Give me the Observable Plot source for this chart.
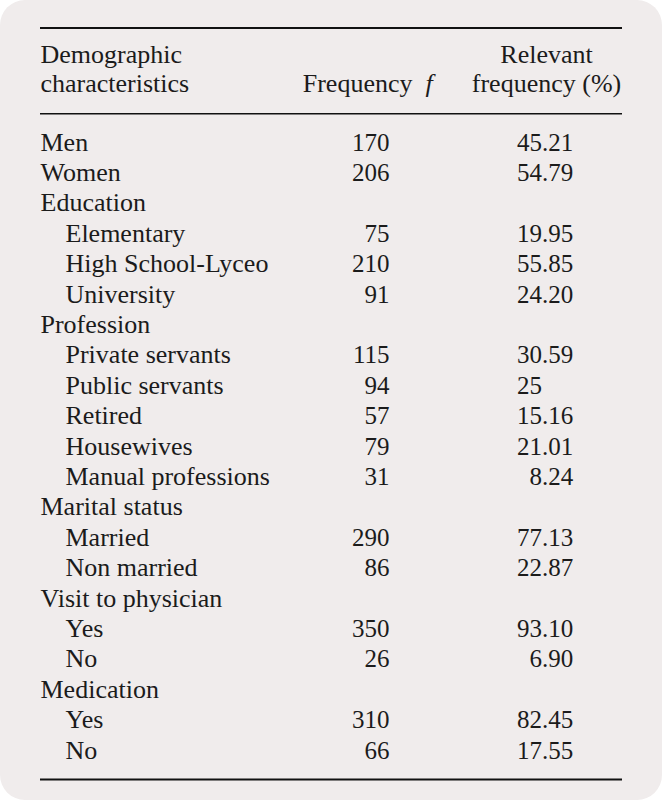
<!DOCTYPE html>
<html><head><meta charset="utf-8">
<script src="https://cdn.jsdelivr.net/npm/d3@7"></script>
<script src="https://cdn.jsdelivr.net/npm/@observablehq/plot@0.6"></script>
<style>
html,body{margin:0;padding:0;background:#fff;}
#chart svg{display:block;}
</style></head><body><div id="chart"></div>
<script>
// ---- data ----
const labels = ["Men","Women","Education","Elementary","High School-Lyceo","University","Profession","Private servants","Public servants","Retired","Housewives","Manual professions","Marital status","Married","Non married","Visit to physician","Yes","No","Medication","Yes","No"];
const indentLevel = [0,0,0,1,1,1,0,1,1,1,1,1,0,1,1,0,1,1,0,1,1];
const frequency = [170,206,null,75,210,91,null,115,94,57,79,31,null,290,86,null,350,26,null,310,66];
const relativeFrequency = ["45.21","54.79",null,"19.95","55.85","24.20",null,"30.59","25","15.16","21.01","8.24",null,"77.13","22.87",null,"93.10","6.90",null,"82.45","17.55"];
const headerCharacteristics = ["Demographic","characteristics"];
const headerFrequency = ["Frequency","f"];
const headerRelative = ["Relevant","frequency (%)"];

// ---- table built from the arrays ----
const rows = labels.map((label,i)=>({i,label,indent:indentLevel[i],freq:frequency[i],rel:relativeFrequency[i]}));
const relParts = rows.filter(d=>d.rel!=null).map(d=>{
  const [a,b] = d.rel.split(".");
  return {i:d.i, int:a, frac:b!==undefined?"."+b:""};
});

// ---- layout (row units on y, pixels on x) ----
const X = {label:40, indent:65, freqEnd:389, fStart:425, freqHeadEnd:412, decimal:541.5, relCenter:546, ruleL:40, ruleR:622};
const Y = {head1:-2.862, head2:-1.908, ruleTop:-4.03, ruleMid:-1.207, ruleBottom:20.69};
const ink = "#1b1b1b";
const fs = 26;   // words
const fn = 25;   // figures

const plot = Plot.plot({
  width:662, height:800, margin:0,
  x:{domain:[0,662], range:[0,662], axis:null},
  y:{domain:[0,20], range:[150,758], axis:null},
  style:{background:"#f0ecec", borderRadius:"25px", fontFamily:"'Liberation Serif', serif"},
  marks:[
    // rules
    Plot.ruleY([Y.ruleTop],{y:d=>d, x1:()=>X.ruleL, x2:()=>X.ruleR, stroke:"#111", strokeWidth:2}),
    Plot.ruleY([Y.ruleMid],{y:d=>d, x1:()=>X.ruleL, x2:()=>X.ruleR, stroke:"#111", strokeWidth:1.4}),
    Plot.ruleY([Y.ruleBottom],{y:d=>d, x1:()=>X.ruleL, x2:()=>X.ruleR, stroke:"#111", strokeWidth:2}),
    // header
    Plot.text(headerCharacteristics,{x:()=>X.label, y:(d,i)=>i===0?Y.head1:Y.head2, text:d=>d, textAnchor:"start", lineAnchor:"bottom", fontSize:fs, fill:ink}),
    Plot.text([headerFrequency[0]],{x:()=>X.freqHeadEnd, y:()=>Y.head2, text:d=>d, textAnchor:"end", lineAnchor:"bottom", fontSize:fs, fill:ink}),
    Plot.text([headerFrequency[1]],{x:()=>X.fStart, y:()=>Y.head2, text:d=>d, textAnchor:"start", lineAnchor:"bottom", fontSize:fs, fontStyle:"italic", fill:ink}),
    Plot.text(headerRelative,{x:()=>X.relCenter, y:(d,i)=>i===0?Y.head1:Y.head2, text:d=>d, textAnchor:"middle", lineAnchor:"bottom", fontSize:fs, fill:ink}),
    // body
    Plot.text(rows,{x:d=>d.indent?X.indent:X.label, y:"i", text:"label", textAnchor:"start", lineAnchor:"bottom", fontSize:fs, fill:ink}),
    Plot.text(rows.filter(d=>d.freq!=null),{x:()=>X.freqEnd, y:"i", text:d=>String(d.freq), textAnchor:"end", lineAnchor:"bottom", fontSize:fn, fill:ink}),
    Plot.text(relParts,{x:()=>X.decimal, y:"i", text:"int", textAnchor:"end", lineAnchor:"bottom", fontSize:fn, fill:ink}),
    Plot.text(relParts.filter(d=>d.frac),{x:()=>X.decimal, y:"i", text:"frac", textAnchor:"start", lineAnchor:"bottom", fontSize:fn, fill:ink})
  ]
});
document.getElementById("chart").appendChild(plot);
</script></body></html>
